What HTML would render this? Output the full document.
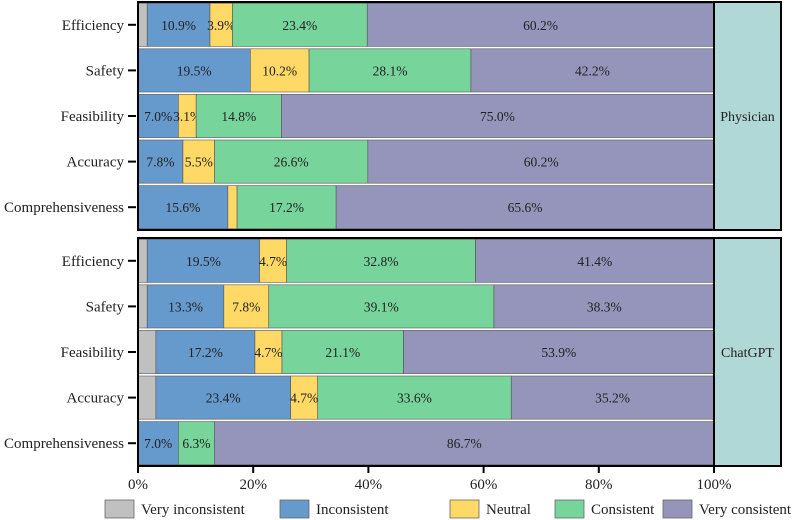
<!DOCTYPE html>
<html><head><meta charset="utf-8"><style>
body{margin:0;background:#fff}
svg{display:block;font-family:"Liberation Serif","Times New Roman",serif}
text{font-family:"Liberation Serif","Times New Roman",serif}
</style></head><body>
<svg id="c" width="798" height="520"></svg>
<script>
const categories=["Efficiency","Safety","Feasibility","Accuracy","Comprehensiveness"];
const panels=["Physician","ChatGPT"];
const seriesNames=["Very inconsistent","Inconsistent","Neutral","Consistent","Very consistent"];
const physVeryInc=[1.6,0,0,0,0];
const physInc=[10.9,19.5,7.0,7.8,15.6];
const physNeutral=[3.9,10.2,3.1,5.5,1.6];
const physCons=[23.4,28.1,14.8,26.6,17.2];
const physVeryCons=[60.2,42.2,75.0,60.2,65.6];
const gptVeryInc=[1.6,1.6,3.1,3.1,0];
const gptInc=[19.5,13.3,17.2,23.4,7.0];
const gptNeutral=[4.7,7.8,4.7,4.7,0];
const gptCons=[32.8,39.1,21.1,33.6,6.3];
const gptVeryCons=[41.4,38.3,53.9,35.2,86.7];
const xTicks=[0,20,40,60,80,100];
const colors=["#c0c0c0","#6699cc","#ffd966","#77d49b","#9595bb"];
const panelData=[[physVeryInc,physInc,physNeutral,physCons,physVeryCons],[gptVeryInc,gptInc,gptNeutral,gptCons,gptVeryCons]];
const svg=document.getElementById('c');const NS="http://www.w3.org/2000/svg";
function mk(t,a,p){const e=document.createElementNS(NS,t);for(const k in a)e.setAttribute(k,a[k]);(p||svg).appendChild(e);return e;}
const X0=138,X1=714;const x=v=>X0+(X1-X0)*v/100;
const panelTop=[2,238],panelH=228;
panels.forEach((pn,pi)=>{
  const g=mk('g',{});
  
  
  const top=panelTop[pi],band=panelH/categories.length;
  categories.forEach((cat,ci)=>{
    const y0=top+ci*band+1.2,h=band-2.4,cy=top+ci*band+band/2;
    let acc=0;
    panelData[pi].forEach((arr,si)=>{
      const v=arr[ci];if(v<=0)return;
      const r=mk('rect',{x:x(acc),y:y0,width:x(acc+v)-x(acc),height:h,fill:colors[si],stroke:'#555','stroke-width':0.6},g);
      
      
      if(v>=3&&si>0){const t=mk('text',{x:(x(acc)+x(acc+v))/2,y:cy+5,'text-anchor':'middle','font-size':13.5,fill:'#222'},g);t.textContent=v.toFixed(1)+'%';
        
        }
      acc+=v;
    });
    mk('line',{x1:X0-10,x2:X0-2,y1:cy,y2:cy,stroke:'#000','stroke-width':2},g);
    const l=mk('text',{x:X0-14,y:cy+5,'text-anchor':'end','font-size':15,fill:'#222'},g);l.textContent=cat;
    
    
  });
  mk('rect',{x:X0,y:top,width:X1-X0,height:panelH,fill:'none',stroke:'#000','stroke-width':2},g);
  const s=mk('rect',{x:X1,y:top,width:67,height:panelH,fill:'#b0d8d6',stroke:'#000','stroke-width':2},g);
  
  
  const st=mk('text',{x:X1+33.5,y:top+panelH/2+5,'text-anchor':'middle','font-size':14,fill:'#222'},g);st.textContent=pn;
  
  
});
xTicks.forEach(v=>{
  mk('line',{x1:x(v),x2:x(v),y1:466,y2:473,stroke:'#000','stroke-width':2});
  const t=mk('text',{x:x(v),y:489,'text-anchor':'middle','font-size':15,fill:'#222'});t.textContent=v+'%';
  
  
});
const legX=[105,280,450,555,663];
seriesNames.forEach((n,i)=>{
  const g=mk('g',{});
  
  
  mk('rect',{x:legX[i],y:500,width:29,height:18,fill:colors[i],stroke:'#666','stroke-width':0.8},g);
  const t=mk('text',{x:legX[i]+36,y:514,'font-size':15,fill:'#222'},g);t.textContent=n;
});
</script>
</body></html>
